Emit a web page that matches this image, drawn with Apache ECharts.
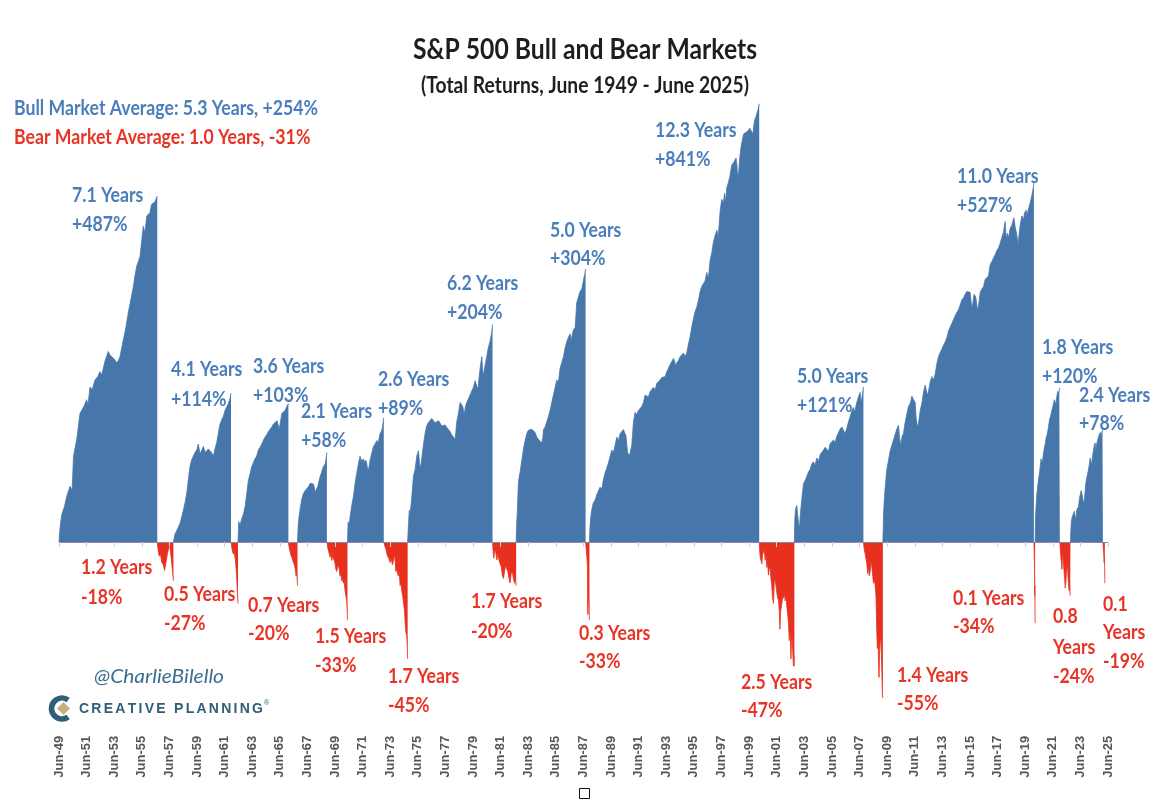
<!DOCTYPE html>
<html><head><meta charset="utf-8">
<script src="https://cdn.jsdelivr.net/npm/echarts/dist/echarts.min.js"></script>
<style>html,body{margin:0;padding:0;background:#fff}#c{width:1160px;height:804px}</style>
</head><body><div id="c"></div>
<script>
// ---- DATA: [decimal year, cumulative total return % within the phase] ----
const bull1949 = [[1949.50,0],[1949.58,8],[1949.70,15],[1949.90,20],[1950.05,26],[1950.30,33],[1950.45,30],[1950.55,55],[1950.80,70],[1951.02,93],[1951.30,100],[1951.50,107],[1951.60,102],[1951.75,121],[1951.90,118],[1952.11,129],[1952.30,133],[1952.47,139],[1952.60,135],[1952.83,152],[1953.07,165],[1953.20,160],[1953.32,158],[1953.50,155],[1953.68,150],[1953.80,153],[1953.92,158],[1954.16,181],[1954.35,200],[1954.52,223],[1954.70,245],[1954.89,270],[1955.00,290],[1955.13,310],[1955.25,320],[1955.37,331],[1955.50,370],[1955.61,403],[1955.72,385],[1955.86,430],[1956.00,425],[1956.09,439],[1956.20,462],[1956.33,457],[1956.45,470],[1956.55,465],[1956.62,487]];
const bear1956 = [[1956.62,0],[1956.68,-4],[1956.76,-7],[1956.85,-6],[1956.95,-10],[1957.06,-11],[1957.15,-13.5],[1957.25,-10],[1957.35,-6],[1957.45,-3],[1957.52,-2],[1957.58,-5],[1957.65,-9],[1957.72,-14],[1957.79,-18]];
const bull1957 = [[1957.79,0],[1957.90,4],[1958.03,6],[1958.15,8],[1958.27,10],[1958.40,14],[1958.51,17.6],[1958.65,23],[1958.75,28],[1958.90,40],[1958.99,47],[1959.10,52],[1959.23,55],[1959.35,58],[1959.48,60],[1959.59,65],[1959.72,57],[1959.85,60],[1959.96,63],[1960.10,58],[1960.20,57],[1960.32,61],[1960.44,61],[1960.55,58],[1960.68,55],[1960.80,61],[1960.92,66],[1961.04,74],[1961.15,82],[1961.29,87],[1961.40,90],[1961.53,96],[1961.65,98],[1961.77,103],[1961.88,108],[1961.96,114]];
const bear1961 = [[1961.96,0],[1962.05,-4],[1962.13,-6],[1962.20,-5],[1962.28,-9],[1962.35,-14],[1962.42,-22],[1962.47,-27]];
const bull1962 = [[1962.47,0],[1962.52,11],[1962.62,9],[1962.74,12.8],[1962.85,15],[1962.98,19.7],[1963.10,28],[1963.22,37],[1963.35,42],[1963.46,47],[1963.58,50],[1963.70,53],[1963.82,55],[1963.94,60],[1964.05,62],[1964.19,65],[1964.30,68],[1964.43,71],[1964.55,73],[1964.67,76],[1964.80,78],[1964.91,80],[1965.05,83],[1965.15,82],[1965.30,86],[1965.39,87],[1965.45,78],[1965.55,85],[1965.64,93],[1965.76,94],[1965.88,96],[1966.00,100],[1966.12,103]];
const bear1966 = [[1966.12,0],[1966.18,-3],[1966.25,-5],[1966.32,-7],[1966.40,-8],[1966.48,-10],[1966.55,-11],[1966.62,-13],[1966.68,-16],[1966.72,-14],[1966.78,-20]];
const bull1966 = [[1966.78,0],[1966.84,10],[1966.92,15.6],[1967.00,20],[1967.08,24],[1967.20,28],[1967.33,30],[1967.45,31],[1967.57,32.6],[1967.70,35],[1967.81,36],[1967.93,34.5],[1968.00,32],[1968.05,29],[1968.17,28],[1968.25,33],[1968.41,39.5],[1968.50,42],[1968.65,47],[1968.78,49],[1968.85,53],[1968.91,58]];
const bear1968 = [[1968.91,0],[1968.97,-3],[1969.02,-4],[1969.08,-6],[1969.14,-7.5],[1969.20,-5],[1969.26,-9],[1969.32,-7],[1969.38,-6.5],[1969.44,-9],[1969.50,-10.5],[1969.56,-13],[1969.62,-14],[1969.68,-12],[1969.74,-11],[1969.80,-13],[1969.86,-16],[1969.92,-15],[1969.98,-18],[1970.04,-17],[1970.10,-19],[1970.16,-18],[1970.22,-22],[1970.28,-24],[1970.34,-26],[1970.38,-30],[1970.40,-33]];
const bull1970 = [[1970.40,0],[1970.45,10.8],[1970.52,9],[1970.59,13.7],[1970.70,20],[1970.83,26],[1970.95,35],[1971.07,42],[1971.19,49],[1971.31,55],[1971.37,53],[1971.43,51],[1971.55,53],[1971.65,50],[1971.72,52],[1971.80,49],[1971.88,44],[1971.95,46],[1972.04,52],[1972.15,57],[1972.28,63],[1972.40,65],[1972.52,68],[1972.60,66],[1972.70,70],[1972.76,74],[1972.85,76],[1972.93,79],[1973.00,86],[1973.03,89]];
const bear1973 = [[1973.03,0],[1973.10,-2],[1973.20,-4],[1973.30,-7],[1973.40,-8],[1973.49,-10],[1973.58,-8],[1973.65,-11],[1973.73,-9],[1973.80,-6],[1973.85,-9],[1973.90,-14],[1973.97,-13],[1974.03,-15],[1974.09,-16],[1974.15,-14],[1974.21,-20],[1974.28,-19],[1974.33,-22],[1974.40,-24],[1974.45,-26.5],[1974.52,-29],[1974.57,-33],[1974.63,-37],[1974.69,-38],[1974.74,-42],[1974.76,-45]];
const bull1974 = [[1974.76,0],[1974.81,8],[1974.88,17.7],[1974.94,15],[1975.05,25],[1975.18,40],[1975.30,45],[1975.42,55],[1975.54,59.5],[1975.62,50],[1975.70,46],[1975.80,55],[1975.90,64],[1976.02,74],[1976.14,81],[1976.25,84],[1976.38,85],[1976.50,88],[1976.63,87],[1976.75,84],[1976.87,83],[1977.00,86],[1977.11,85],[1977.23,81],[1977.35,79.5],[1977.47,82],[1977.59,81],[1977.70,78],[1977.83,76],[1977.95,73],[1978.08,71],[1978.20,69],[1978.32,85],[1978.45,94],[1978.56,104],[1978.65,106],[1978.75,100],[1978.85,92],[1978.95,100],[1979.04,104],[1979.16,106],[1979.28,112],[1979.40,114],[1979.52,120.5],[1979.65,128],[1979.77,129],[1979.85,118],[1979.92,130],[1980.01,143],[1980.13,158],[1980.20,140],[1980.25,134],[1980.35,145],[1980.49,158],[1980.60,170],[1980.73,179],[1980.85,192],[1980.91,204]];
const bear1980 = [[1980.91,0],[1980.97,-6],[1981.00,-8],[1981.05,-5],[1981.12,-4],[1981.22,-8.8],[1981.30,-6],[1981.38,-9],[1981.46,-10.6],[1981.55,-12],[1981.62,-15.7],[1981.70,-17],[1981.78,-14],[1981.86,-11],[1981.94,-13],[1982.02,-14],[1982.10,-17],[1982.18,-18.9],[1982.26,-15],[1982.34,-14],[1982.42,-17],[1982.50,-19],[1982.56,-17],[1982.62,-20]];
const bull1982 = [[1982.62,0],[1982.66,10],[1982.71,17.7],[1982.78,35],[1982.85,40],[1982.91,43],[1983.03,52],[1983.15,61],[1983.27,68],[1983.39,74],[1983.50,77],[1983.63,76],[1983.75,78],[1983.87,77.7],[1984.00,75],[1984.11,71],[1984.25,69],[1984.36,67.5],[1984.48,66],[1984.55,70],[1984.60,77.7],[1984.72,80],[1984.84,85],[1984.96,90],[1985.08,96],[1985.20,104],[1985.32,112],[1985.44,120],[1985.56,129],[1985.68,126],[1985.80,143],[1985.92,150],[1986.05,158],[1986.17,170],[1986.29,179],[1986.41,185],[1986.53,190],[1986.60,180],[1986.68,188],[1986.77,196],[1986.90,200],[1987.01,240],[1987.13,250],[1987.25,260],[1987.38,265],[1987.50,282],[1987.60,295],[1987.65,304]];
const bear1987 = [[1987.65,0],[1987.70,-4],[1987.75,-8],[1987.79,-12],[1987.80,-29],[1987.82,-31],[1987.84,-26],[1987.87,-24],[1987.90,-28],[1987.93,-33]];
const bull1987 = [[1987.93,0],[1987.97,8],[1988.05,15.4],[1988.15,20],[1988.22,22.4],[1988.35,24],[1988.46,27.3],[1988.58,28],[1988.70,32.4],[1988.82,31],[1988.94,37.7],[1989.05,42],[1989.19,46],[1989.31,50],[1989.43,55],[1989.55,60],[1989.67,58],[1989.79,64],[1989.91,71],[1990.03,68],[1990.15,74],[1990.27,75],[1990.39,77.7],[1990.51,79.5],[1990.58,72],[1990.64,64],[1990.70,58],[1990.76,56.4],[1990.82,55],[1990.88,58],[1991.00,64],[1991.12,85],[1991.24,94],[1991.36,92],[1991.48,96],[1991.60,98],[1991.72,100],[1991.84,104],[1991.96,112],[1992.08,112],[1992.20,110],[1992.33,116],[1992.45,114],[1992.57,120.5],[1992.69,118],[1992.81,125],[1992.93,127],[1993.05,129],[1993.17,132],[1993.29,134],[1993.41,133],[1993.53,138.6],[1993.65,141],[1993.78,148],[1993.90,150],[1994.02,155.6],[1994.10,152],[1994.18,146],[1994.26,150],[1994.38,153],[1994.50,158],[1994.62,156],[1994.74,163],[1994.86,158],[1994.98,163],[1995.10,175],[1995.22,185],[1995.34,200],[1995.47,214],[1995.59,225],[1995.71,233],[1995.83,245],[1995.95,260],[1996.07,270],[1996.19,275],[1996.31,280],[1996.43,297],[1996.55,285],[1996.67,322],[1996.80,340],[1996.92,365],[1997.04,380],[1997.16,393],[1997.26,375],[1997.40,444],[1997.52,477],[1997.60,472],[1997.64,466],[1997.72,495],[1997.80,470],[1997.88,512],[1998.00,530],[1998.10,547],[1998.24,588],[1998.37,596],[1998.48,602],[1998.55,613],[1998.62,585],[1998.66,550],[1998.74,560],[1998.80,602],[1998.90,650],[1999.00,680],[1999.10,706],[1999.25,712],[1999.40,718],[1999.55,730],[1999.65,737],[1999.77,706],[1999.88,760],[2000.00,782],[2000.10,790],[2000.15,815],[2000.20,822],[2000.23,841]];
const bear2000 = [[2000.23,0],[2000.27,-5],[2000.30,-7.2],[2000.36,-9],[2000.42,-10.6],[2000.48,-6],[2000.54,-5.4],[2000.60,-4],[2000.66,-8.9],[2000.72,-6],[2000.78,-12.2],[2000.84,-10],[2000.90,-15.5],[2000.96,-13],[2001.02,-12],[2001.08,-17],[2001.14,-20],[2001.20,-25],[2001.26,-27],[2001.32,-19],[2001.38,-17],[2001.44,-20],[2001.51,-23],[2001.57,-25],[2001.63,-25.8],[2001.69,-30],[2001.73,-36],[2001.78,-30],[2001.87,-27],[2001.93,-24],[2001.99,-25],[2002.05,-23],[2002.11,-26],[2002.17,-24],[2002.23,-28],[2002.29,-31],[2002.35,-34],[2002.41,-39.6],[2002.47,-37],[2002.53,-45],[2002.57,-40],[2002.62,-38],[2002.66,-43],[2002.71,-47],[2002.75,-44],[2002.78,-47]];
const bull2002 = [[2002.78,0],[2002.81,12],[2002.86,18.3],[2002.95,20.5],[2003.00,16],[2003.08,10],[2003.15,7],[2003.20,14],[2003.32,25],[2003.44,34.8],[2003.56,37],[2003.68,40],[2003.80,43],[2003.92,45],[2004.04,49],[2004.16,50.7],[2004.28,48],[2004.40,53.6],[2004.52,51],[2004.60,50],[2004.65,56.5],[2004.77,55],[2004.89,60],[2005.01,62.4],[2005.13,61],[2005.25,59],[2005.37,65.4],[2005.49,67],[2005.61,68.6],[2005.73,66],[2005.85,71.7],[2005.97,73],[2006.09,78],[2006.22,80],[2006.34,79],[2006.45,74],[2006.58,79],[2006.70,85],[2006.82,90],[2006.94,95.7],[2007.06,99],[2007.15,94],[2007.22,99.4],[2007.30,104],[2007.42,110],[2007.54,114.8],[2007.62,103],[2007.70,112],[2007.78,121]];
const bear2007 = [[2007.78,0],[2007.84,-3.7],[2007.91,-6],[2007.97,-5.4],[2008.03,-10.6],[2008.09,-15],[2008.15,-12.2],[2008.21,-16],[2008.27,-13.9],[2008.33,-9],[2008.39,-12],[2008.45,-15.5],[2008.51,-19],[2008.57,-17],[2008.63,-20],[2008.69,-24],[2008.75,-37.3],[2008.79,-42],[2008.83,-37],[2008.87,-45],[2008.91,-50],[2008.95,-43],[2008.99,-40],[2009.03,-38],[2009.07,-42.8],[2009.11,-48],[2009.16,-54.3],[2009.19,-55]];
const bull2009 = [[2009.19,0],[2009.24,16],[2009.30,25],[2009.36,32.3],[2009.48,45.2],[2009.60,52],[2009.72,59.4],[2009.84,64],[2009.96,68.6],[2010.08,70],[2010.20,78.2],[2010.32,81.6],[2010.40,70],[2010.50,64],[2010.58,72],[2010.68,74],[2010.80,84],[2010.92,92],[2011.04,100],[2011.17,103],[2011.29,110.8],[2011.41,107],[2011.53,104],[2011.60,88],[2011.70,80],[2011.78,84],[2011.89,95.7],[2012.01,103],[2012.13,114.8],[2012.25,123],[2012.37,115],[2012.45,112],[2012.62,127],[2012.74,133],[2012.86,129],[2012.98,136],[2013.10,149],[2013.22,158],[2013.34,163.7],[2013.46,168],[2013.58,173.7],[2013.70,178],[2013.82,184],[2013.94,194],[2014.07,200.5],[2014.19,206],[2014.31,212],[2014.43,218],[2014.55,223.7],[2014.67,228],[2014.79,236],[2014.91,245],[2015.03,248.8],[2015.15,255],[2015.27,260],[2015.39,262],[2015.51,258.8],[2015.63,230],[2015.70,238],[2015.80,255],[2015.92,250],[2016.04,228],[2016.12,235],[2016.24,258],[2016.36,265],[2016.48,268.9],[2016.60,283],[2016.72,283],[2016.84,290],[2016.96,312.6],[2017.09,320],[2017.21,328],[2017.33,335],[2017.45,344.5],[2017.57,350],[2017.69,361],[2017.81,375],[2017.93,388],[2018.05,415],[2018.12,370],[2018.20,385],[2018.30,375],[2018.41,397],[2018.53,405],[2018.68,425],[2018.78,400],[2018.90,380],[2018.98,355],[2019.05,380],[2019.14,406.6],[2019.26,430],[2019.38,420],[2019.45,438],[2019.57,445.7],[2019.62,430],[2019.74,450],[2019.86,466.5],[2019.98,488],[2020.08,510],[2020.13,527]];
const bear2020 = [[2020.13,0],[2020.15,-4],[2020.17,-12],[2020.18,-15],[2020.19,-24],[2020.20,-20],[2020.21,-30],[2020.22,-34]];
const bull2020 = [[2020.22,0],[2020.25,14],[2020.29,20],[2020.35,28],[2020.41,33],[2020.47,38],[2020.53,42],[2020.59,47],[2020.65,53],[2020.71,50],[2020.77,52],[2020.83,58],[2020.89,62],[2020.95,65],[2021.01,70],[2021.07,72],[2021.13,76],[2021.19,80],[2021.25,86],[2021.31,89],[2021.37,92],[2021.43,96],[2021.49,99],[2021.55,103],[2021.61,107],[2021.67,108],[2021.72,102],[2021.80,111],[2021.86,116],[2021.92,113],[2021.97,118],[2022.01,120]];
const bear2022 = [[2022.01,0],[2022.05,-4],[2022.09,-8],[2022.13,-10],[2022.16,-13],[2022.20,-9],[2022.24,-6],[2022.28,-11],[2022.32,-14],[2022.36,-17],[2022.40,-21],[2022.44,-19],[2022.48,-15],[2022.52,-12],[2022.56,-11],[2022.60,-16],[2022.64,-20],[2022.68,-22],[2022.72,-20],[2022.76,-24],[2022.78,-24]];
const bull2022 = [[2022.78,0],[2022.81,6],[2022.85,11.8],[2022.92,14],[2023.00,13],[2023.06,17],[2023.12,14],[2023.18,12],[2023.24,18],[2023.30,19],[2023.37,20],[2023.43,25],[2023.49,27.4],[2023.55,30],[2023.61,28],[2023.67,25],[2023.75,21],[2023.82,27],[2023.88,34],[2023.94,38],[2023.99,40],[2024.09,45],[2024.15,49],[2024.21,53.6],[2024.27,54],[2024.31,48],[2024.37,54],[2024.45,60],[2024.51,64],[2024.57,66],[2024.61,58],[2024.66,64],[2024.72,67],[2024.78,68.6],[2024.86,73],[2024.94,75],[2024.98,71],[2025.04,75],[2025.10,77],[2025.13,78]];
const bear2025 = [[2025.13,0],[2025.16,-3],[2025.19,-6],[2025.22,-10],[2025.24,-8],[2025.26,-12],[2025.27,-19]];

const bullYears = [7.1, 4.1, 3.6, 2.1, 2.6, 6.2, 5.0, 12.3, 5.0, 11.0, 1.8, 2.4];
const bullGains = [487, 114, 103, 58, 89, 204, 304, 841, 121, 527, 120, 78];
const bearYears = [1.2, 0.5, 0.7, 1.5, 1.7, 1.7, 0.3, 2.5, 1.4, 0.1, 0.8, 0.1];
const bearLosses = [-18, -27, -20, -33, -45, -20, -33, -47, -55, -34, -24, -19];
const averageBull = [5.3, 254];
const averageBear = [1.0, -31];

// ---- LAYOUT ----
const bullLabelPos = [[72,196,225],[171,369.5,399.5],[253,367,396],[301,412,441],[378,379.5,408.6],[447,284,312.7],[550,230.5,259],[655,131,159.6],[797,377,406],[957,177,205.5],[1042,348,377],[1079,395.5,424]];
const bearLabelPos = [[81,568,597.5],[164,595,624],[248,606,634],[315,637,666],[388,677,706],[471,602,631.5],[579,633.4,662],[741,682.7,711],[897,675.5,703.6],[953,599,627],[1053,617,647.5,677],[1103,604.5,633,662]];

const BLUE = '#4676AA', RED = '#E8301F', BLUE_T = '#4A7EBB', RED_T = '#E83426';
const FACE = 'Lato, "Open Sans", "DejaVu Sans", sans-serif';

const BULLS = [bull1949, bull1957, bull1962, bull1966, bull1970, bull1974, bull1982, bull1987, bull2002, bull2009, bull2020, bull2022];
const BEARS = [bear1956, bear1961, bear1966, bear1968, bear1973, bear1980, bear1987, bear2000, bear2007, bear2020, bear2022, bear2025];

const toXY = p => [(p[0] - 1949.5) * 12, Math.log(1 + p[1] / 100)];
const mk = (pts, color) => ({
  type: 'line', xAxisIndex: 0, data: pts.map(toXY), showSymbol: false, symbol: 'none',
  lineStyle: { color: color, width: 0.8 }, areaStyle: { color: color, opacity: 1 },
  itemStyle: { color: color }, silent: true, animation: false, z: 2
});
const series = BULLS.map(p => mk(p, BLUE)).concat(BEARS.map(p => mk(p, RED)));

// pixel scale: 195.5 px per unit of ln(1+r), zero line at y=542
const K = 195.5, Y0 = 542, YMAX = 2.4, YMIN = -0.95;

const mctx = document.createElement('canvas').getContext('2d');
function measure(font, s) { mctx.font = font; return mctx.measureText(s).width; }

const LF = 'bold 20px ' + FACE;
const legendBull = 'Bull Market Average: ' + averageBull[0].toFixed(1) + ' Years, +' + averageBull[1] + '%';
const legendBear = 'Bear Market Average: ' + averageBear[0].toFixed(1) + ' Years, ' + averageBear[1] + '%';
const SX = 304 / measure(LF, legendBull);

const graphics = [];
function txt(s, x, y, fill, font, align, sx) {
  graphics.push({ type: 'text', x: x, y: y, scaleX: sx || 1, silent: true,
    style: { text: s, fill: fill, font: font, textAlign: align || 'left', textVerticalAlign: 'middle' } });
}
bullLabelPos.forEach((p, i) => {
  txt(bullYears[i].toFixed(1) + ' Years', p[0], p[1], BLUE_T, LF, 'left', SX);
  txt('+' + bullGains[i] + '%', p[0], p[2], BLUE_T, LF, 'left', SX);
});
bearLabelPos.forEach((p, i) => {
  const yrs = bearYears[i].toFixed(1), pct = bearLosses[i] + '%';
  if (p.length === 4) {
    txt(yrs, p[0], p[1], RED_T, LF, 'left', SX); txt('Years', p[0], p[2], RED_T, LF, 'left', SX); txt(pct, p[0], p[3], RED_T, LF, 'left', SX);
  } else {
    txt(yrs + ' Years', p[0], p[1], RED_T, LF, 'left', SX); txt(pct, p[0], p[2], RED_T, LF, 'left', SX);
  }
});
const TF = 'bold 28px ' + FACE, SF = 'bold 22px ' + FACE;
const title = 'S&P 500 Bull and Bear Markets', sub = '(Total Returns, June 1949 - June 2025)';
txt(title, 585, 50, '#1e1e1e', TF, 'center', 344 / measure(TF, title));
txt(sub, 585, 86, '#1e1e1e', SF, 'center', 328 / measure(SF, sub));
txt(legendBull, 14, 109, BLUE_T, LF, 'left', SX);
txt(legendBear, 14, 138, RED_T, LF, 'left', SX);
const WF = 'italic 19px ' + FACE;
txt('@CharlieBilello', 94, 677, '#3a6f91', WF, 'left', 130 / measure(WF, '@CharlieBilello'));

// Creative Planning logo
graphics.push({ type: 'arc', silent: true, shape: { cx: 62, cy: 708.5, r: 10.5, startAngle: Math.PI * 0.3, endAngle: Math.PI * 1.7, clockwise: true },
  style: { stroke: '#2E5F78', lineWidth: 5.5, fill: null } });
graphics.push({ type: 'polygon', silent: true, shape: { points: [[57, 708.5], [63.5, 702], [70, 708.5], [63.5, 715]] },
  style: { fill: '#C9AE80' } });
(function () {
  const word = 'CREATIVE PLANNING', font = 'bold 14px "Liberation Sans", Arial, sans-serif';
  const widths = word.split('').map(c => measure(font, c));
  const total = widths.reduce((a, b) => a + b, 0);
  const gap = (184 - total) / (word.length - 1);
  let x = 79;
  word.split('').forEach((c, i) => { txt(c, x, 709, '#2E5F78', font); x += widths[i] + gap; });
  txt('®', x - gap + 1, 703, '#2E5F78', '7px sans-serif');
})();
graphics.push({ type: 'rect', silent: true, shape: { x: 579.5, y: 788.5, width: 10, height: 10 }, style: { fill: null, stroke: '#111', lineWidth: 1 } });

const chart = echarts.init(document.getElementById('c'), null, { renderer: 'canvas', width: 1160, height: 804 });
chart.setOption({
  animation: false,
  backgroundColor: '#fff',
  grid: { left: 59, width: 1049, top: Y0 - YMAX * K, height: (YMAX - YMIN) * K, containLabel: false, outerBoundsMode: 'none' },
  xAxis: [{
    type: 'value', min: 0, max: 912, interval: 24, z: 10, position: 'bottom',
    axisLine: { show: true, onZero: true, lineStyle: { color: '#8f86a6', width: 1 } },
    axisTick: { show: true, length: 5, lineStyle: { color: '#cfcfcf' } },
    splitLine: { show: false },
    axisLabel: { show: false }
  }, {
    type: 'value', min: 0, max: 912, interval: 24, position: 'bottom',
    axisLine: { show: false, onZero: false },
    axisTick: { show: false },
    splitLine: { show: false },
    axisLabel: {
      show: true, rotate: 90, margin: 8, color: '#555', fontSize: 13, fontWeight: 'bold',
      fontFamily: '"Liberation Sans", Arial, sans-serif', hideOverlap: false,
      showMinLabel: true, showMaxLabel: true,
      formatter: v => 'Jun-' + String((1949 + Math.round(v / 12)) % 100).padStart(2, '0')
    }
  }],
  yAxis: { type: 'value', min: YMIN, max: YMAX, show: false, splitLine: { show: false } },
  series: series,
  graphic: graphics
});
</script></body></html>
